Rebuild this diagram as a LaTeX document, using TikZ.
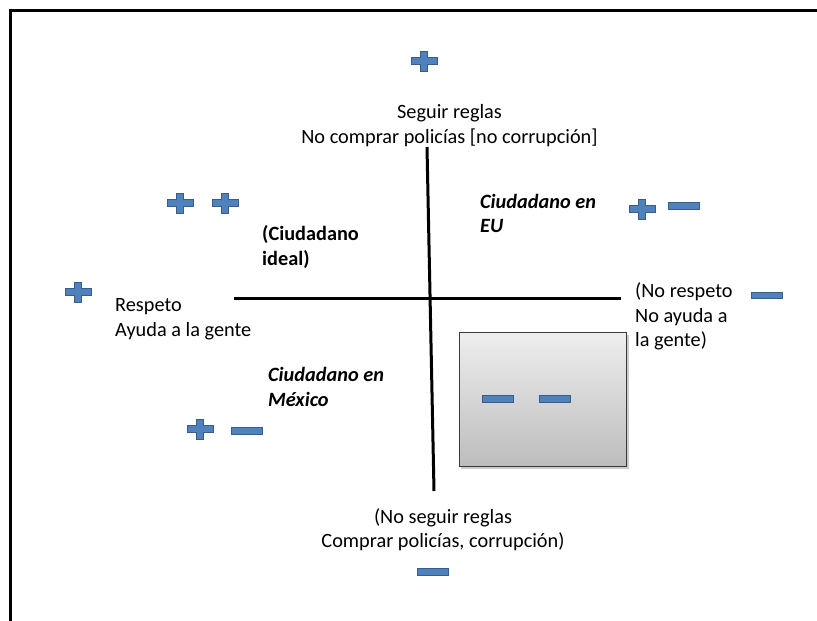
\documentclass[tikz,border=0pt]{standalone}
\usepackage{fontspec}
\setmainfont{Carlito}
\definecolor{signfill}{HTML}{4F81BD}
\definecolor{signline}{HTML}{385D8A}
\definecolor{boxtop}{HTML}{EEEEEE}
\definecolor{boxbot}{HTML}{BDBDBD}
\definecolor{boxline}{HTML}{3A3A3A}
\tikzset{
  signshape/.style={fill=signfill, draw=signline, line width=1pt},
  label text/.style={font=\fontsize{20.3}{24.5}\selectfont, inner sep=0pt, align=left, anchor=base west},
  quadrant/.style={label text, font=\fontsize{20.3}{24.5}\selectfont\bfseries\itshape},
  plussign/.pic={\draw[signshape] (-3.8,-10)--(3.8,-10)--(3.8,-3.6)--(13,-3.6)--(13,3.6)--(3.8,3.6)--(3.8,10)--(-3.8,10)--(-3.8,3.6)--(-13,3.6)--(-13,-3.6)--(-3.8,-3.6)--cycle;},
  minussign/.pic={\draw[signshape] (-15.5,-3.3) rectangle (15.5,3.3);}
}
\begin{document}
\begin{tikzpicture}[x=1pt, y=-1pt]
\useasboundingbox (0,0) rectangle (817,621);
\draw (10,630)--(10,10)--(830,10) [line width=3pt];
\coordinate (top) at (427,147);
\coordinate (bottom) at (434,491);
\coordinate (left) at (234,298);
\coordinate (right) at (621,298);
\draw (top)--(bottom) [line width=3pt];
\draw (left)--(right) [line width=3pt];
\fill (461,335) rectangle (629,469) [black!20];
\shadedraw (459,332) rectangle (626,466) [top color=boxtop, bottom color=boxbot, draw=boxline, line width=1pt];
\node (seguir) at (449.5,143) [label text, align=center, anchor=base] {Seguir reglas\\No comprar policías [no corrupción]};
\node (noseguir) at (443,547.5) [label text, align=center, anchor=base] {(No seguir reglas\\Comprar policías, corrupción)};
\node (respeto) at (115,336) [label text] {Respeto\\Ayuda a la gente};
\node (norespeto) at (635,346.5) [label text] {(No respeto\\No ayuda a\\la gente)};
\node (ideal) at (262,265) [label text, font=\fontsize{20.3}{24.5}\selectfont\bfseries] {(Ciudadano\\ideal)};
\node (eu) at (480,232.5) [quadrant] {Ciudadano en\\EU};
\node (mexico) at (268,406) [quadrant] {Ciudadano en\\México};
\pic at (424,61) {plussign};
\pic at (180,203) {plussign};
\pic at (225,203) {plussign};
\pic at (642,209) {plussign};
\pic at (684,206) {minussign};
\pic at (78,292) {plussign};
\pic at (767,295.5) {minussign};
\pic at (200,429) {plussign};
\pic at (247,431) {minussign};
\pic at (497.5,399) {minussign};
\pic at (555,399) {minussign};
\pic at (433,572) {minussign};
\end{tikzpicture}
\end{document}
